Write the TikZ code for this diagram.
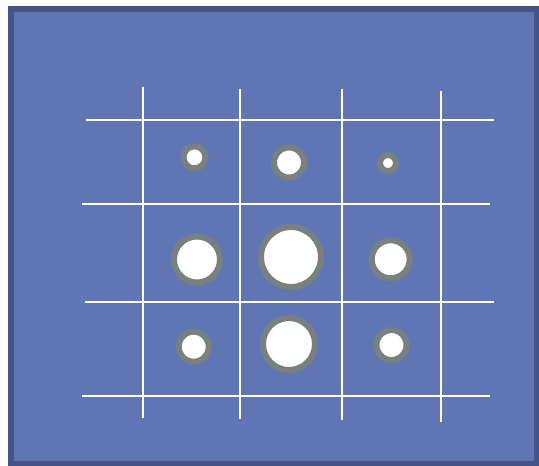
\documentclass[tikz,border=0pt]{standalone}
\definecolor{panelblue}{RGB}{96,118,180}
\definecolor{paneledge}{RGB}{68,84,136}
\definecolor{ringgray}{RGB}{120,128,128}
\begin{document}
\begin{tikzpicture}[x=1pt, y=-1pt,
  gridline/.style={white, line width=2.6pt},
  hole/.style={draw=ringgray, fill=white, line width=6pt}]
\useasboundingbox (0,0) rectangle (539,466);
\draw[paneledge, fill=panelblue, line width=5.5pt] (10.75,9) rectangle (536.5,463.5);
% horizontal lines
\draw[gridline] (86,120) -- (494,120);
\draw[gridline] (82,204) -- (490,204);
\draw[gridline] (85,302) -- (494,302);
\draw[gridline] (82,396) -- (490,396);
% vertical lines
\draw[gridline] (143,87) -- (143,418);
\draw[gridline] (240,89) -- (240,419);
\draw[gridline] (342,89) -- (342,420);
\draw[gridline] (441,91) -- (441,422);
% holes
\foreach \x/\y/\r in {194.5/157.3/11, 289/162.5/15, 388/163/8,
                      197/259.5/23, 291/257/30, 390.7/259.3/19,
                      193.7/346.7/15, 289/344/26, 391.5/345/15}
  \draw[hole] (\x,\y) circle (\r);
\end{tikzpicture}
\end{document}
